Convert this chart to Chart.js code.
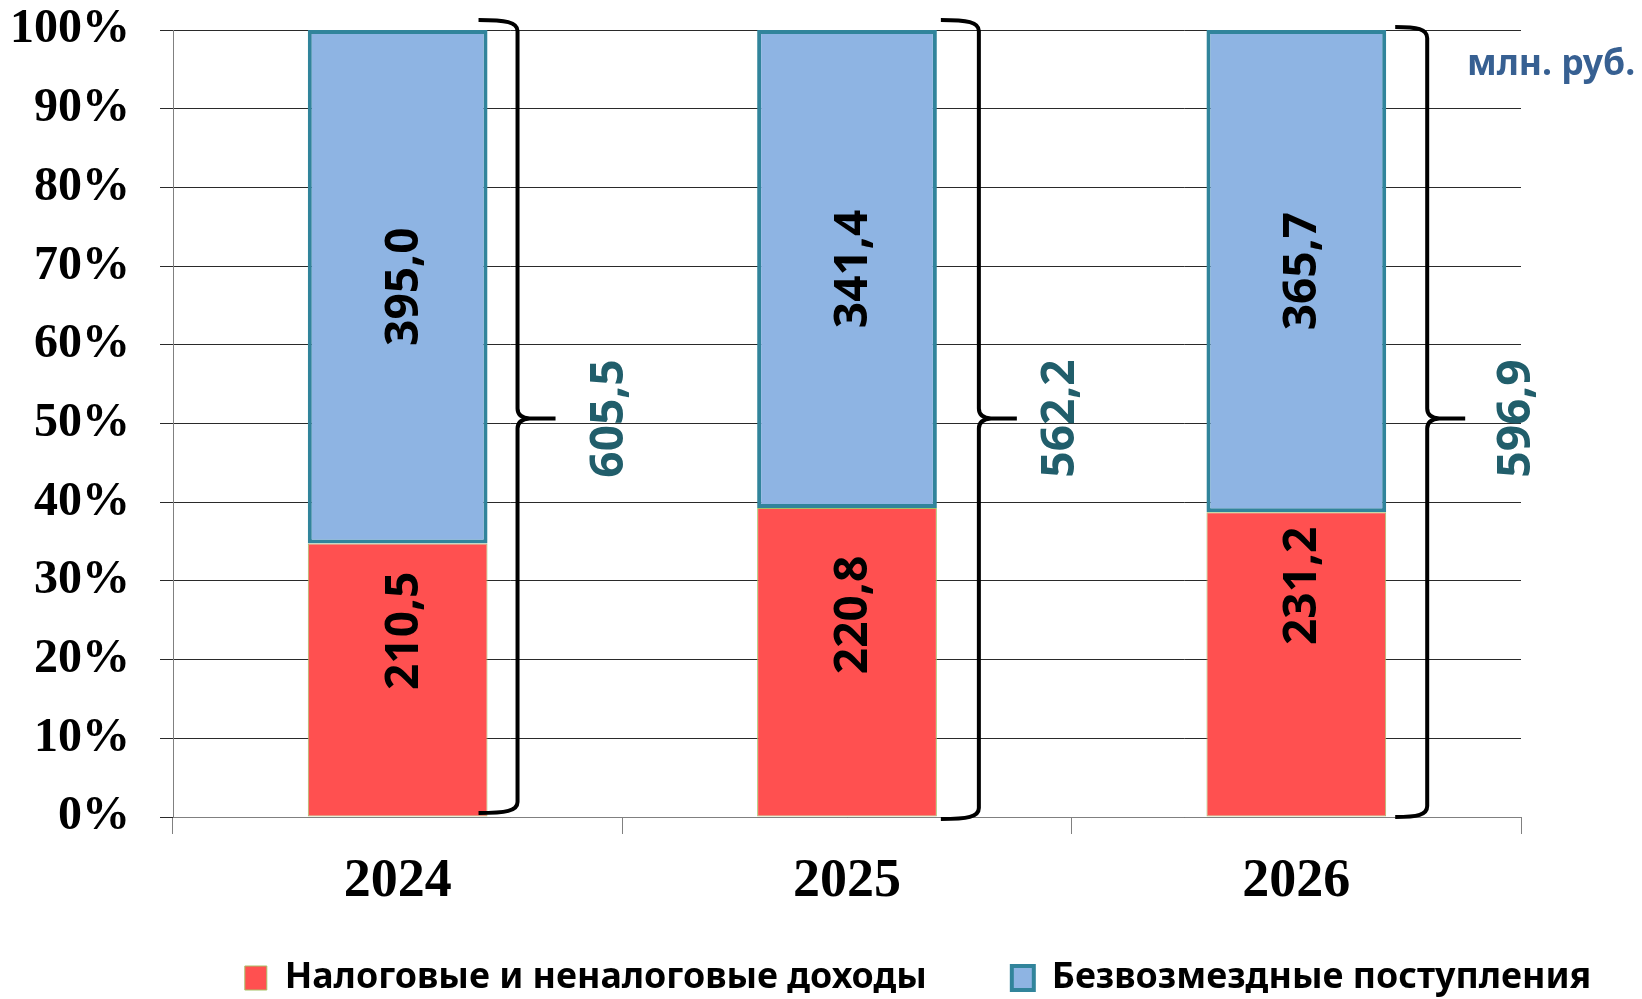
<!DOCTYPE html>
<html><head><meta charset="utf-8">
<script src="https://cdn.jsdelivr.net/npm/chart.js@4.4.1/dist/chart.umd.min.js"></script>
<style>html,body{margin:0;padding:0;background:#fff;}#wrap{width:1642px;height:999px;}</style>
</head><body><div id="wrap"><canvas id="c" width="1642" height="999"></canvas></div>
<script>
// ---- data ----
const years = ['2024', '2025', '2026'];
const seriesNames = ['Налоговые и неналоговые доходы', 'Безвозмездные поступления'];
const taxRevenue = [210.5, 220.8, 231.2];
const grantRevenue = [395.0, 341.4, 365.7];
const totals = [605.5, 562.2, 596.9];
const yTickValues = [0, 10, 20, 30, 40, 50, 60, 70, 80, 90, 100];
const unitLabel = 'млн. руб.';

const fmt = v => v.toFixed(1).replace('.', ',');
const taxShare = taxRevenue.map((v, i) => v / totals[i] * 100);
const grantShare = grantRevenue.map((v, i) => v / totals[i] * 100);

const NUM_FONT = 'bold 46px "Noto Sans"';

const labelPlugin = {
  id: 'valueLabels',
  afterDatasetsDraw(chart, args, opts) {
    const ctx = chart.ctx;
    const raw = [taxRevenue, grantRevenue];
    ctx.save();
    ctx.font = NUM_FONT;
    ctx.textAlign = 'center';
    ctx.textBaseline = 'middle';
    ctx.fillStyle = '#000';
    chart.data.datasets.forEach((ds, di) => {
      const meta = chart.getDatasetMeta(di);
      meta.data.forEach((bar, i) => {
        const top = Math.min(bar.y, bar.base), bottom = Math.max(bar.y, bar.base);
        const frac = di === 0 ? opts.lowerPos[i] : 0.5;
        const cy = bottom - (bottom - top) * frac;
        ctx.save();
        ctx.translate(bar.x + opts.dx, cy);
        ctx.rotate(-Math.PI / 2);
        ctx.fillText(fmt(raw[di][i]), 0, 0);
        ctx.restore();
      });
    });
    ctx.restore();
  }
};

const bracePlugin = {
  id: 'braces',
  afterDatasetsDraw(chart, args, o) {
    const ctx = chart.ctx;
    const ys = chart.scales.y;
    const meta = chart.getDatasetMeta(1);
    const y100 = ys.getPixelForValue(100), y0 = ys.getPixelForValue(0), y50 = ys.getPixelForValue(50);
    ctx.save();
    meta.data.forEach((bar, i) => {
      const right = bar.x + bar.width / 2;
      const xs = right + o.start[i];
      const xv = right + o.vert[i];
      const xt = xv + o.tip;
      const yt = y100 + o.topDy[i];
      const yb = y0 + o.botDy[i];
      const ym = y50 + o.tipDy;
      ctx.beginPath();
      ctx.lineWidth = 4;
      ctx.strokeStyle = '#000';
      ctx.lineJoin = 'round';
      ctx.moveTo(xs, yt);
      ctx.bezierCurveTo(xs + (xv - xs) * 0.7, yt, xv, yt + 2, xv, yt + 11);
      ctx.lineTo(xv, ym - 10);
      ctx.quadraticCurveTo(xv, ym - 1, xv + 12, ym);
      ctx.lineTo(xt, ym);
      ctx.moveTo(xv + 12, ym);
      ctx.quadraticCurveTo(xv, ym + 1, xv, ym + 10);
      ctx.lineTo(xv, yb - 11);
      ctx.bezierCurveTo(xv, yb - 2, xs + (xv - xs) * 0.7, yb, xs, yb);
      ctx.stroke();
      ctx.font = NUM_FONT;
      ctx.fillStyle = '#215E6B';
      ctx.textAlign = 'center';
      ctx.textBaseline = 'middle';
      ctx.save();
      ctx.translate(right + o.total[i], ym);
      ctx.rotate(-Math.PI / 2);
      ctx.fillText(fmt(totals[i]), 0, 0);
      ctx.restore();
    });
    ctx.font = 'bold 35.5px "Noto Sans"';
    ctx.fillStyle = '#376092';
    ctx.textAlign = 'left';
    ctx.textBaseline = 'alphabetic';
    ctx.fillText(unitLabel, o.unitX, o.unitY);
    ctx.restore();
  }
};

const legendShift = {
  id: 'legendShift',
  afterLayout(chart, args, o) {
    const l = chart.legend;
    if (!l) return;
    const dx = o.centerX - (l.left + l.right) / 2;
    l.left += dx; l.right += dx;
    const P = l.options.labels.padding, F = l.options.labels.font.size;
    l.top = o.textCenterY - P - F / 2;
    l.bottom = l.top + F + P + 10;
    l.height = l.bottom - l.top;
  }
};

Chart.defaults.font.family = '"Noto Sans"';
Chart.defaults.color = '#000';

new Chart(document.getElementById('c'), {
  type: 'bar',
  data: {
    labels: years,
    datasets: [
      {
        label: seriesNames[0],
        data: taxShare,
        backgroundColor: '#FF5050',
        borderColor: '#A6C167',
        borderWidth: 1,
        borderSkipped: false,
        barPercentage: 0.4,
        categoryPercentage: 1.0
      },
      {
        label: seriesNames[1],
        data: grantShare,
        backgroundColor: '#8EB4E3',
        borderColor: '#31849B',
        borderWidth: 4,
        borderSkipped: false,
        barPercentage: 0.4,
        categoryPercentage: 1.0
      }
    ]
  },
  options: {
    responsive: false,
    animation: false,
    devicePixelRatio: 1,
    layout: { padding: { left: 0, right: 121, top: 30, bottom: 0 } },
    scales: {
      x: {
        stacked: true,
        grid: { offset: true, drawOnChartArea: false, drawTicks: true, tickLength: 17, color: '#808080', lineWidth: 1 },
        border: { color: '#808080', width: 1 },
        ticks: { font: { family: '"Liberation Serif"', weight: 'bold', size: 54 }, color: '#000', padding: 16, autoSkip: false, maxRotation: 0 },
        afterFit: s => { s.height = 100; }
      },
      y: {
        stacked: true,
        min: 0,
        max: 100,
        afterBuildTicks: s => { s.ticks = yTickValues.map(v => ({ value: v })); },
        ticks: {
          callback: v => v + '%',
          font: { family: '"Liberation Serif"', weight: 'bold', size: 48 },
          color: '#000',
          padding: 30
        },
        grid: { color: '#2a2a2a', lineWidth: 1, tickLength: 13 },
        border: { color: '#808080', width: 1 },
        afterFit: s => { s.width = 173; s.paddingTop = 0; s.paddingBottom = 0; }
      }
    },
    plugins: {
      tooltip: { enabled: false },
      legend: {
        position: 'bottom',
        maxHeight: 82,
        labels: {
          boxWidth: 22,
          boxHeight: 24,
          padding: 85,
          color: '#000',
          font: { family: '"Noto Sans"', weight: 'bold', size: 35.8 }
        }
      },
      legendShift: { centerX: 918, textCenterY: 978 },
      valueLabels: { lowerPos: [0.68, 0.653, 0.758], dx: 7 },
      braces: {
        start: [-9, 4, 9],
        vert: [30, 42, 41],
        tip: 38,
        tipDy: -5,
        topDy: [-10, -10, -3],
        botDy: [-4, 2, 0],
        total: [122, 124, 131],
        unitX: 1467,
        unitY: 75
      }
    }
  },
  plugins: [labelPlugin, bracePlugin, legendShift]
});
</script>
</body></html>
